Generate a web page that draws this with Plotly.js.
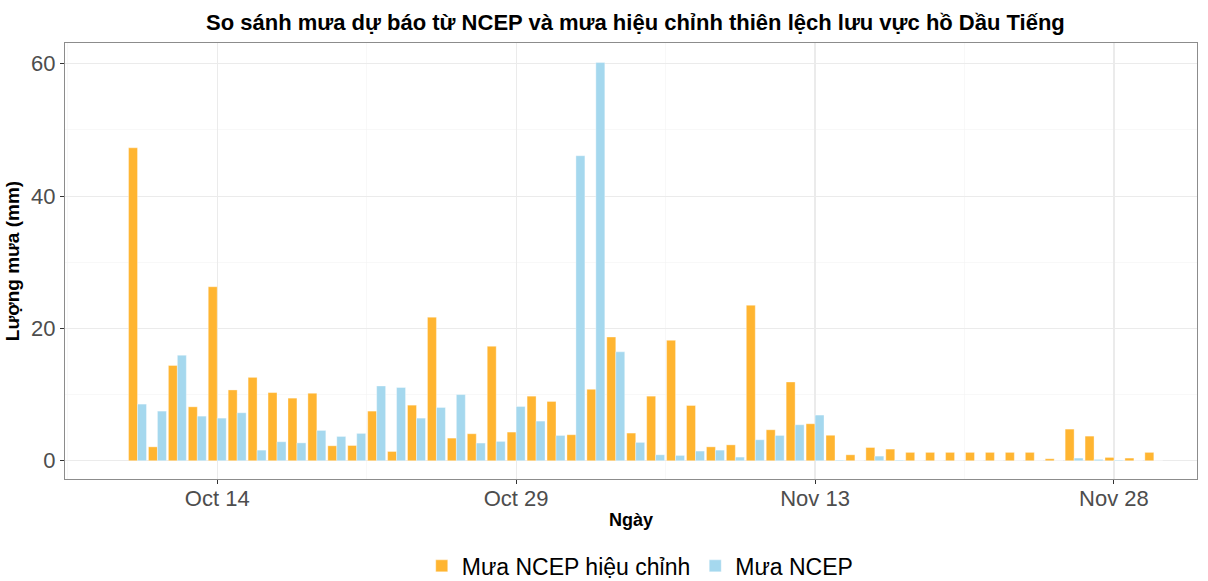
<!DOCTYPE html>
<html>
<head>
<meta charset="utf-8">
<script src="https://cdn.plot.ly/plotly-3.0.1.min.js"></script>
<style>html,body{margin:0;padding:0;background:#fff;}#chart{width:1208px;height:581px;}</style>
</head>
<body>
<div id="chart"></div>
<script>
// Dates: Oct 10 .. Nov 30 (one per day)
const dates = [
  "2023-10-10","2023-10-11","2023-10-12","2023-10-13","2023-10-14","2023-10-15","2023-10-16","2023-10-17",
  "2023-10-18","2023-10-19","2023-10-20","2023-10-21","2023-10-22","2023-10-23","2023-10-24","2023-10-25",
  "2023-10-26","2023-10-27","2023-10-28","2023-10-29","2023-10-30","2023-10-31","2023-11-01","2023-11-02",
  "2023-11-03","2023-11-04","2023-11-05","2023-11-06","2023-11-07","2023-11-08","2023-11-09","2023-11-10",
  "2023-11-11","2023-11-12","2023-11-13","2023-11-14","2023-11-15","2023-11-16","2023-11-17","2023-11-18",
  "2023-11-19","2023-11-20","2023-11-21","2023-11-22","2023-11-23","2023-11-24","2023-11-25","2023-11-26",
  "2023-11-27","2023-11-28","2023-11-29","2023-11-30"
];
// Bias-corrected NCEP rainfall (mm)
const muaHieuChinh = [
  47.3, 2.1, 14.4, 8.15, 26.3, 10.7, 12.6, 10.3,
  9.46, 10.2, 2.26, 2.3, 7.5, 1.4, 8.4, 21.7,
  3.42, 4.08, 17.3, 4.33, 9.76, 8.96, 3.93, 10.8,
  18.7, 4.18, 9.76, 18.2, 8.35, 2.1, 2.4, 23.5,
  4.68, 11.9, 5.59, 3.85, 0.9, 2.0, 1.76, 1.26,
  1.26, 1.26, 1.26, 1.26, 1.26, 1.26, 0.3, 4.78,
  3.72, 0.5, 0.4, 1.26
];
// Raw NCEP rainfall (mm)
const muaNCEP = [
  8.56, 7.5, 15.95, 6.74, 6.44, 7.25, 1.6, 2.87,
  2.7, 4.58, 3.67, 4.13, 11.3, 11.07, 6.44, 8.05,
  10.0, 2.67, 2.92, 8.2, 5.99, 3.82, 46.1, 60.2,
  16.46, 2.77, 0.9, 0.8, 1.46, 1.6, 0.55, 3.17,
  3.82, 5.44, 6.9, 0.1, 0, 0.7, 0.1, 0,
  0, 0, 0, 0, 0, 0, 0, 0.4,
  0.2, 0.1, 0, 0
];
const seriesNames = ["Mưa NCEP hiệu chỉnh", "Mưa NCEP"];
const seriesColors = ["#FFB531", "#A5D8EE"];
const xTickStart = "2023-10-14";
const DAY = 86400000;

const traces = [muaHieuChinh, muaNCEP].map((vals, i) => ({
  type: "bar",
  x: dates,
  y: vals,
  name: seriesNames[i],
  marker: {color: seriesColors[i], line: {color: "rgba(255,255,255,0.6)", width: 0.6}}
}));

const layout = {
  width: 1208, height: 581,
  margin: {l: 65, r: 11, t: 42.5, b: 102, pad: 0},
  paper_bgcolor: "#ffffff", plot_bgcolor: "#ffffff",
  font: {family: "Liberation Sans, Arial, sans-serif", color: "#000"},
  title: {text: "<b>So sánh mưa dự báo từ NCEP và mưa hiệu chỉnh thiên lệch lưu vực hồ Dầu Tiếng</b>",
          font: {size: 22, color: "#000"}, x: 0.526, xanchor: "center", y: 0.962, yanchor: "middle"},
  barmode: "group", bargap: 0.1, bargroupgap: 0,
  xaxis: {
    type: "date",
    range: ["2023-10-06 08:40", "2023-12-02 04:00"],
    tick0: xTickStart, dtick: 15 * DAY, tickformat: "%b %d",
    ticks: "outside", ticklen: 4, tickcolor: "#333", tickwidth: 1,
    tickfont: {size: 22, color: "#4D4D4D"}, ticklabelstandoff: -4,
    showgrid: true, gridcolor: "#EBEBEB", gridwidth: 1.1,
    minor: {tick0: "2023-10-06 12:00", dtick: 7.5 * DAY, showgrid: true, gridcolor: "#F4F4F4", gridwidth: 0.6, ticks: ""},
    showline: true, linecolor: "#8C8C8C", linewidth: 1, mirror: true,
    zeroline: false,
    title: {text: "<b>Ngày</b>", font: {size: 18, color: "#000"}, standoff: 2}
  },
  yaxis: {
    range: [-2.76, 63.14],
    tick0: 0, dtick: 20,
    ticks: "outside", ticklen: 4, tickcolor: "#333", tickwidth: 1,
    tickfont: {size: 22, color: "#4D4D4D"},
    showgrid: true, gridcolor: "#EBEBEB", gridwidth: 1.1,
    minor: {dtick: 10, showgrid: true, gridcolor: "#F4F4F4", gridwidth: 0.6, ticks: ""},
    showline: true, linecolor: "#8C8C8C", linewidth: 1, mirror: true,
    zeroline: false,
    title: {text: "<b>Lượng mưa (mm)</b>", font: {size: 19, color: "#000"}, standoff: 6}
  },
  showlegend: true,
  legend: {orientation: "h", x: 0.53, xanchor: "center", xref: "container",
           y: 0.026, yanchor: "middle", yref: "container",
           font: {size: 23, color: "#000"}, itemwidth: 30, tracegroupgap: 0, itemclick: false},
};

Plotly.newPlot("chart", traces, layout, {displayModeBar: false, staticPlot: true});
</script>
</body>
</html>
